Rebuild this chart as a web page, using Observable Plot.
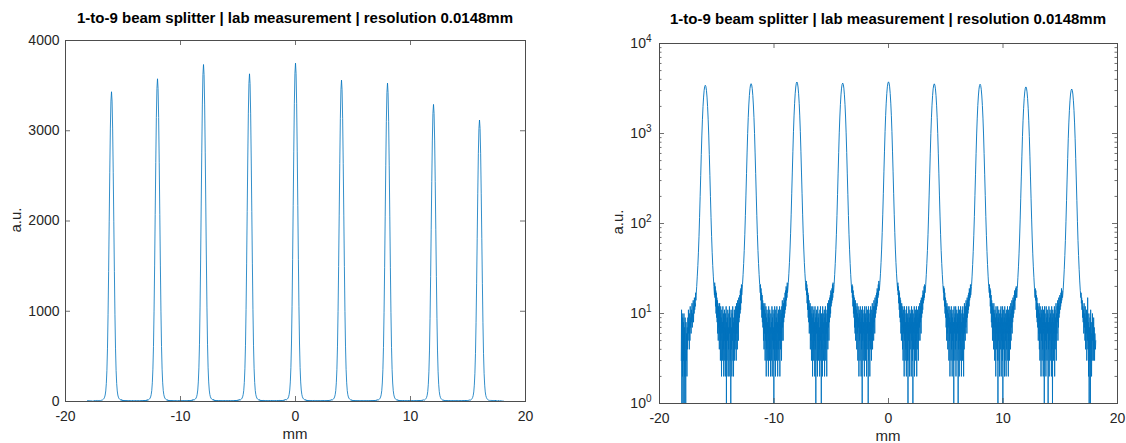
<!DOCTYPE html>
<html><head><meta charset="utf-8">
<script src="https://cdn.jsdelivr.net/npm/d3@7"></script>
<script src="https://cdn.jsdelivr.net/npm/@observablehq/plot@0.6"></script>
<style>
body{margin:0;background:#fff;font-family:"Liberation Sans",Arial,sans-serif;}
#wrap{position:relative;width:1126px;height:443px;overflow:hidden;background:#fff;}
.panel{position:absolute;top:0;}
.title{position:absolute;font-weight:bold;font-size:15px;color:#000;white-space:nowrap;transform:translate(-50%,-50%);}
.xlab{position:absolute;font-size:15px;color:#262626;white-space:nowrap;transform:translate(-50%,-50%);}
.ylab{position:absolute;font-size:15px;color:#262626;white-space:nowrap;transform:translate(-50%,-50%) rotate(-90deg);}
</style></head><body>
<div id="wrap">
  <div class="panel" id="leftPanel" style="left:0px"></div>
  <div class="panel" id="rightPanel" style="left:560px"></div>
  <div class="title" id="t1" style="left:295px;top:17px"></div>
  <div class="title" id="t2" style="left:888px;top:18px"></div>
  <div class="xlab" style="left:295px;top:433px">mm</div>
  <div class="xlab" style="left:888px;top:435px">mm</div>
  <div class="ylab" style="left:15px;top:220px">a.u.</div>
  <div class="ylab" style="left:617px;top:222px">a.u.</div>
</div>
<script>
// ---------- data ----------
const chartTitle = "1-to-9 beam splitter | lab measurement | resolution 0.0148mm";
const xDomain = [-20, 20];
const xTicks = [-20, -10, 0, 10, 20];
const linDomain = [0, 4000];
const linTicks = [0, 1000, 2000, 3000, 4000];
const logDomain = [1, 10000];
const logTicks = [1, 10, 100, 1000, 10000];

const peakCenters = [-16, -12, -8, -4, 0, 4, 8, 12, 16];
const peakHeights = [3432, 3576, 3734, 3631, 3749, 3561, 3528, 3292, 3119];
// half profile of one beam, relative to its peak (offset in mm from the centre)
const profileOffsets = [0, 0.05, 0.10, 0.15, 0.20, 0.25, 0.30, 0.35, 0.40, 0.45, 0.50, 0.55, 0.60, 0.65, 0.70, 0.75, 0.80];
const profileRel = [1, 0.97, 0.88, 0.74, 0.58, 0.42, 0.28, 0.17, 0.10, 0.058, 0.034, 0.021, 0.014, 0.010, 0.0075, 0.0058, 0.0047];

const dataStart = -18.1, dataEnd = 18.1, floorEdge = 0.82;
// background (noise floor) counts, read left to right
const floorStart = [3,11,1,10,2,9,1,8,3,10,1,7,2,9,4,1,8,3,6,2,7,4,9,5,11,6,8,4,10,5,12,7,9,6,11,8,13,7,10,9,14,8,12,10,15,11,13,12,17,14];
const floorGap1 = [22,15,20,12,18,10,17,9,15,8,14,6,13,5,12,7,11,4,13,6,10,3,12,5,9,2,11,6,8,3,12,4,10,2,9,5,11,3,7,2,10,4,12,1,8,3,9,5,11,2,7,4,10,2,12,6,8,3,9,1,11,4,7,2,10,5,12,3,8,2,9,6,11,3,10,4,12,5,8,3,13,6,11,4,14,7,12,5,15,8,13,9,16,10,18,11,19,13,21,16];
const floorGap2 = [21,14,19,11,17,9,16,8,14,7,13,5,12,4,11,6,13,3,10,5,12,2,9,4,11,3,8,6,10,2,12,5,9,3,11,4,7,2,10,6,8,3,12,2,9,5,11,4,7,1,10,3,12,5,8,2,11,4,9,3,12,6,8,2,10,4,11,3,9,5,12,2,8,4,11,6,10,3,12,5,14,7,11,5,13,8,15,9,14,10,17,11,18,12,20,14,19,15,22,17];
const floorGap3 = [23,16,21,13,19,11,17,9,16,8,14,6,12,7,13,4,11,5,12,3,10,6,9,2,12,4,10,3,11,5,8,2,12,4,9,1,10,6,11,3,8,2,12,5,9,3,10,4,7,2,11,5,12,3,8,1,10,4,9,2,12,6,10,3,8,5,11,2,9,4,12,3,10,6,8,2,11,5,13,4,12,7,14,5,13,8,15,9,16,10,18,12,17,13,19,14,21,15,22,18];
const floorGap4 = [21,15,20,12,18,10,16,9,15,7,13,6,14,5,12,8,11,4,13,6,10,3,12,7,9,2,11,5,10,3,12,6,8,2,11,4,9,1,12,5,10,3,8,6,11,2,12,4,9,3,10,5,12,2,8,4,11,6,9,1,12,3,10,5,8,2,11,4,12,6,9,3,11,5,13,4,10,7,12,5,14,8,12,6,15,9,13,10,16,11,17,12,19,13,18,15,21,16,23,18];
const floorGap5 = [22,16,20,13,18,11,17,9,15,8,14,6,12,5,13,7,10,4,12,3,11,6,9,2,12,5,10,3,8,4,11,2,12,6,9,3,10,1,8,5,12,3,9,2,11,4,10,6,8,2,12,5,9,3,11,1,10,4,8,6,12,2,9,4,11,3,10,5,12,2,8,4,11,6,9,3,12,5,10,7,13,5,12,8,14,6,15,9,13,10,16,11,18,13,17,14,20,15,21,17];
const floorGap6 = [20,14,19,12,17,10,15,9,14,7,12,5,13,6,11,4,12,7,10,3,12,5,9,2,11,6,8,3,12,4,10,2,9,5,11,3,8,1,12,6,9,3,10,4,12,2,8,5,11,3,10,6,9,1,12,4,8,2,11,5,9,3,12,4,10,2,8,6,11,3,12,5,9,2,10,4,13,6,11,5,12,7,14,8,13,6,15,9,14,10,16,11,17,12,19,14,18,15,21,16];
const floorGap7 = [21,15,19,12,18,10,16,8,14,7,13,5,12,6,11,4,13,7,10,3,11,5,9,2,12,4,10,6,8,3,12,1,9,5,11,3,10,2,8,6,11,4,12,2,9,5,10,3,12,1,8,4,11,6,9,2,12,3,10,5,8,2,11,4,9,6,12,3,10,2,11,5,9,3,12,6,10,4,13,5,11,7,14,6,12,8,15,9,14,10,16,12,18,11,17,14,19,15,20,17];
const floorGap8 = [19,14,18,11,16,9,15,8,13,7,12,5,11,6,13,4,10,3,12,6,9,2,11,5,10,3,12,4,8,2,11,6,9,1,12,3,10,5,8,2,12,4,9,3,11,6,10,1,8,4,12,2,9,5,11,3,10,6,8,2,12,4,9,1,11,5,10,3,8,6,12,2,11,4,9,5,13,3,10,6,12,8,14,5,13,7,15,9,12,10,16,11,15,12,17,13,19,14,18,16];
const floorEnd = [17,13,15,11,14,9,12,8,11,6,13,7,10,5,12,4,9,6,11,3,10,5,15,4,8,2,10,1,7,3,9,1,11,4,8,2,6,3,10,5,8,3,9,4,7,3,6,5,4,5];

// ---------- build the trace ----------
function floorSegment(vals, x0, x1) {
  return vals.map((v, i) => ({x: x0 + i * (x1 - x0) / (vals.length - 1), y: v}));
}
function peakSegment(c, h) {
  const pts = [];
  for (let i = profileOffsets.length - 1; i >= 1; i--) pts.push({x: c - profileOffsets[i], y: Math.max(1, Math.round(h * profileRel[i]))});
  for (let i = 0; i < profileOffsets.length; i++) pts.push({x: c + profileOffsets[i], y: Math.max(1, Math.round(h * profileRel[i]))});
  return pts;
}
const gaps = [floorGap1, floorGap2, floorGap3, floorGap4, floorGap5, floorGap6, floorGap7, floorGap8];
let trace = floorSegment(floorStart, dataStart, peakCenters[0] - floorEdge);
peakCenters.forEach((c, k) => {
  trace = trace.concat(peakSegment(c, peakHeights[k]));
  if (k < gaps.length) trace = trace.concat(floorSegment(gaps[k], c + floorEdge, peakCenters[k + 1] - floorEdge));
});
trace = trace.concat(floorSegment(floorEnd, peakCenters[peakCenters.length - 1] + floorEdge, dataEnd));

const logMinor = [];
logTicks.slice(0, -1).forEach(d => { for (let m = 2; m <= 9; m++) logMinor.push(d * m); });

const lineColor = "#0072BD", axisColor = "#4d4d4d";
const fontStyle = {fontSize: "14px", fontFamily: "'Liberation Sans', Arial, sans-serif", color: "#262626", background: "transparent", overflow: "visible"};

function ticksMarks(W, H, xt, yt, minor) {
  const m = [
    Plot.ruleX(xt, {stroke: axisColor, strokeWidth: 0.8, insetTop: H - 5}),
    Plot.ruleX(xt, {stroke: axisColor, strokeWidth: 0.8, insetBottom: H - 5}),
    Plot.ruleY(yt, {stroke: axisColor, strokeWidth: 0.8, insetRight: W - 5}),
    Plot.ruleY(yt, {stroke: axisColor, strokeWidth: 0.8, insetLeft: W - 5})
  ];
  if (minor) {
    m.push(Plot.ruleY(minor, {stroke: axisColor, strokeWidth: 0.8, insetRight: W - 2.5}));
    m.push(Plot.ruleY(minor, {stroke: axisColor, strokeWidth: 0.8, insetLeft: W - 2.5}));
  }
  m.push(Plot.frame({stroke: axisColor, strokeWidth: 1}));
  return m;
}

// left: linear
const L = {w: 560, h: 443, ml: 65, mr: 35, mt: 40, mb: 42};
const left = Plot.plot({
  width: L.w, height: L.h, marginLeft: L.ml, marginRight: L.mr, marginTop: L.mt, marginBottom: L.mb,
  style: fontStyle,
  x: {domain: xDomain, ticks: xTicks, tickSize: 0, tickPadding: 10, tickFormat: d => String(d), label: null},
  y: {domain: linDomain, ticks: linTicks, tickSize: 0, tickPadding: 6, tickFormat: d => String(d), label: null},
  marks: [
    Plot.line(trace, {x: "x", y: "y", stroke: lineColor, strokeWidth: 0.8, clip: true}),
    ...ticksMarks(L.w - L.ml - L.mr, L.h - L.mt - L.mb, xTicks, linTicks, null)
  ]
});
document.getElementById("leftPanel").appendChild(left);

// right: log
const R = {w: 566, h: 443, ml: 99, mr: 9, mt: 43, mb: 40};
const right = Plot.plot({
  width: R.w, height: R.h, marginLeft: R.ml, marginRight: R.mr, marginTop: R.mt, marginBottom: R.mb,
  style: fontStyle,
  x: {domain: xDomain, ticks: xTicks, tickSize: 0, tickPadding: 10, tickFormat: d => String(d), label: null},
  y: {type: "log", domain: logDomain, ticks: logTicks, tickSize: 0, tickPadding: 8, tickFormat: d => "10^" + Math.round(Math.log10(d)), label: null},
  marks: [
    Plot.line(trace, {x: "x", y: "y", stroke: lineColor, strokeWidth: 0.9, clip: true}),
    ...ticksMarks(R.w - R.ml - R.mr, R.h - R.mt - R.mb, xTicks, logTicks, logMinor)
  ]
});
document.getElementById("rightPanel").appendChild(right);

// turn "10^n" tick labels into 10 with a raised exponent
right.querySelectorAll('g[aria-label="y-axis tick label"] text').forEach(t => {
  const parts = t.textContent.split("^");
  if (parts.length !== 2) return;
  t.textContent = parts[0];
  const s = document.createElementNS("http://www.w3.org/2000/svg", "tspan");
  s.setAttribute("dy", "-6");
  s.setAttribute("font-size", "10px");
  s.textContent = parts[1];
  t.appendChild(s);
});

document.getElementById("t1").textContent = chartTitle;
document.getElementById("t2").textContent = chartTitle;
</script>
</body></html>
